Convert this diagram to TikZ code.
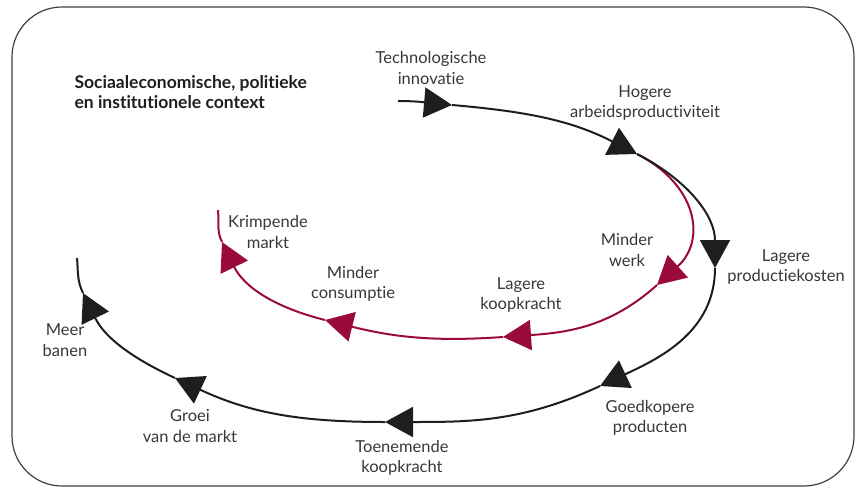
\documentclass[tikz,border=0pt]{standalone}
\usepackage{fontspec}
\setmainfont{Lato}[Ligatures=NoCommon]
\usetikzlibrary{arrows.meta}
\definecolor{wine}{RGB}{155,10,60}
\definecolor{ink}{RGB}{30,30,30}
\definecolor{txt}{RGB}{55,55,55}

\begin{document}
\begin{tikzpicture}[x=1pt,y=1pt]
\tikzstyle{lbl}=[align=center,text=txt,font=\fontsize{16.5}{20.5}\selectfont]
\tikzstyle{loopline}=[draw=ink,line width=2pt,-{Triangle[length=28pt,width=30pt]}]
\tikzstyle{wineline}=[loopline,draw=wine]
\useasboundingbox (0,0) rectangle (858,488);
\draw[ink!85,line width=1.2pt,rounded corners=50pt] (12,2) rectangle (854,481);

\node[anchor=west,align=left,text=ink,font=\fontsize{17.5}{20}\selectfont\bfseries] (context) at (71,396)
  {Sociaaleconomische, politieke\\en institutionele context};

\path (398,387) coordinate (b0)
      (452,383) coordinate (b1)
      (637,334) coordinate (b2)
      (715,220) coordinate (b3)
      (600,102) coordinate (b4)
      (385,66)  coordinate (b5)
      (175,110) coordinate (b6)
      (83,195)  coordinate (b7)
      (77,230)  coordinate (b8);
\path (657,203) coordinate (r1)
      (503,151) coordinate (r2)
      (325,168) coordinate (r3)
      (222,246) coordinate (r4)
      (218,278) coordinate (r5);

\node[lbl] (tech) at (431,420) {Technologische\\innovatie};
\node[lbl] (prod) at (645,385) {Hogere\\arbeidsproductiviteit};
\node[lbl] (kost) at (786,221) {Lagere\\productiekosten};
\node[lbl] (goed) at (650,70) {Goedkopere\\producten};
\node[lbl] (toen) at (402,30) {Toenemende\\koopkracht};
\node[lbl] (groei) at (190,62) {Groei\\van de markt};
\node[lbl] (meer) at (65,148) {Meer\\banen};
\node[lbl] (krimp) at (268,256) {Krimpende\\markt};
\node[lbl] (cons) at (353,204) {Minder\\consumptie};
\node[lbl] (koop) at (521,193) {Lagere\\koopkracht};
\node[lbl] (werk) at (627,238) {Minder\\werk};

\draw[wineline] (b2) to[out=-27,in=42,looseness=1.3] (r1);
\draw[wineline] (r1) to[out=222,in=4] (r2);
\draw[wineline] (r2) to[out=184,in=-14] (r3);
\draw[wineline] (r3) to[out=166,in=-64] (r4);
\draw[wineline,-] (r4) to[out=116,in=-85] (r5);

\draw[loopline] (b0) to[out=0,in=175] (b1);
\draw[loopline] (b1) to[out=-5,in=153] (b2);
\draw[loopline] (b2) to[out=-27,in=90] (b3);
\draw[loopline] (b3) to[out=-90,in=25] (b4);
\draw[loopline] (b4) to[out=205,in=0] (b5);
\draw[loopline] (b5) to[out=180,in=-25] (b6);
\draw[loopline] (b6) to[out=155,in=-64] (b7);
\draw[loopline,-] (b7) to[out=116,in=-85] (b8);
\end{tikzpicture}
\end{document}
